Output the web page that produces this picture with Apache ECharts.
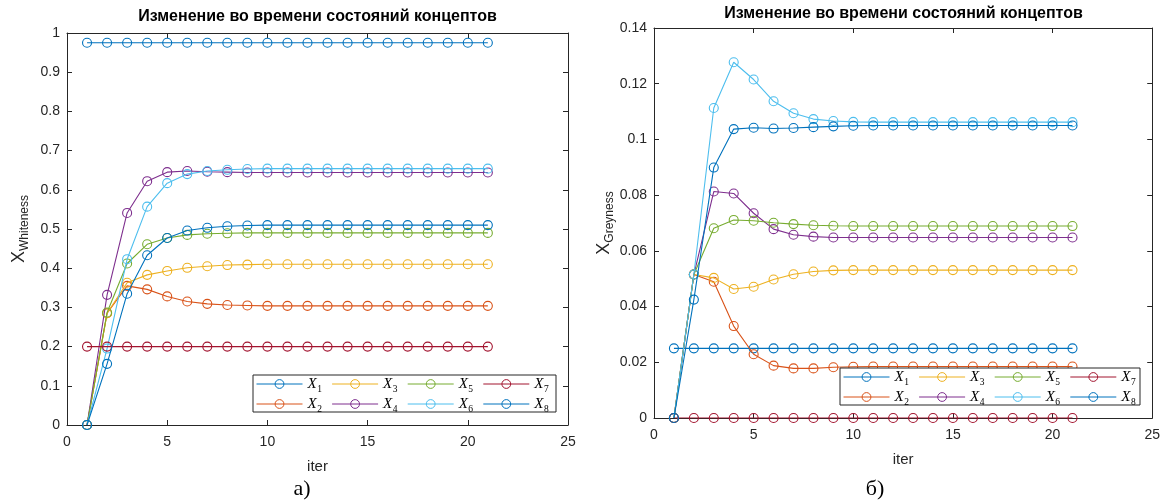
<!DOCTYPE html>
<html><head><meta charset="utf-8">
<script src="https://cdn.jsdelivr.net/npm/echarts@6/dist/echarts.min.js"></script>
<style>html,body{margin:0;padding:0;background:#fff}#c{width:1163px;height:504px}</style>
</head><body><div id="c"></div>
<script>
// ---- data ----
const iter = [1,2,3,4,5,6,7,8,9,10,11,12,13,14,15,16,17,18,19,20,21];
const names = ['X1','X2','X3','X4','X5','X6','X7','X8'];
const subs  = ['1','2','3','4','5','6','7','8'];
const colors = ['#0072BD','#D95319','#EDB120','#7E2F8E','#77AC30','#4DBEEE','#A2142F','#0072BD'];

// Whiteness (left)
const whiteX1 = [0.975,0.975,0.975,0.975,0.975,0.975,0.975,0.975,0.975,0.975,0.975,0.975,0.975,0.975,0.975,0.975,0.975,0.975,0.975,0.975,0.975];
const whiteX2 = [0,0.285,0.355,0.346,0.328,0.315,0.309,0.306,0.305,0.304,0.304,0.304,0.304,0.304,0.304,0.304,0.304,0.304,0.304,0.304,0.304];
const whiteX3 = [0,0.285,0.363,0.383,0.393,0.401,0.405,0.408,0.409,0.410,0.410,0.410,0.410,0.410,0.410,0.410,0.410,0.410,0.410,0.410,0.410];
const whiteX4 = [0,0.332,0.541,0.622,0.645,0.648,0.646,0.645,0.644,0.644,0.644,0.644,0.644,0.644,0.644,0.644,0.644,0.644,0.644,0.644,0.644];
const whiteX5 = [0,0.287,0.412,0.461,0.477,0.485,0.488,0.489,0.490,0.490,0.490,0.490,0.490,0.490,0.490,0.490,0.490,0.490,0.490,0.490,0.490];
const whiteX6 = [0,0.195,0.423,0.557,0.617,0.640,0.648,0.651,0.653,0.654,0.654,0.654,0.654,0.654,0.654,0.654,0.654,0.654,0.654,0.654,0.654];
const whiteX7 = [0.2,0.2,0.2,0.2,0.2,0.2,0.2,0.2,0.2,0.2,0.2,0.2,0.2,0.2,0.2,0.2,0.2,0.2,0.2,0.2,0.2];
const whiteX8 = [0,0.156,0.335,0.433,0.477,0.496,0.503,0.507,0.509,0.510,0.510,0.510,0.510,0.510,0.510,0.510,0.510,0.510,0.510,0.510,0.510];

// Greyness (right)
const greyX1 = [0.025,0.025,0.025,0.025,0.025,0.025,0.025,0.025,0.025,0.025,0.025,0.025,0.025,0.025,0.025,0.025,0.025,0.025,0.025,0.025,0.025];
const greyX2 = [0,0.0515,0.0489,0.0330,0.0229,0.0188,0.0178,0.0178,0.0182,0.0184,0.0185,0.0185,0.0185,0.0185,0.0185,0.0185,0.0185,0.0185,0.0185,0.0185,0.0185];
const greyX3 = [0,0.0515,0.0503,0.0463,0.0471,0.0497,0.0516,0.0526,0.0530,0.0531,0.0531,0.0531,0.0531,0.0531,0.0531,0.0531,0.0531,0.0531,0.0531,0.0531,0.0531];
const greyX4 = [0,0.0515,0.0813,0.0806,0.0735,0.0678,0.0658,0.0651,0.0648,0.0648,0.0648,0.0648,0.0648,0.0648,0.0648,0.0648,0.0648,0.0648,0.0648,0.0648,0.0648];
const greyX5 = [0,0.0515,0.0681,0.0711,0.0708,0.0701,0.0696,0.0692,0.0690,0.0689,0.0689,0.0689,0.0689,0.0689,0.0689,0.0689,0.0689,0.0689,0.0689,0.0689,0.0689];
const greyX6 = [0,0.0515,0.1113,0.1277,0.1215,0.1137,0.1094,0.1073,0.1066,0.1063,0.1062,0.1062,0.1062,0.1062,0.1062,0.1062,0.1062,0.1062,0.1062,0.1062,0.1062];
const greyX7 = [0,0,0,0,0,0,0,0,0,0,0,0,0,0,0,0,0,0,0,0,0];
const greyX8 = [0,0.0425,0.0899,0.1037,0.1042,0.1039,0.1041,0.1044,0.1047,0.1049,0.1050,0.1050,0.1050,0.1050,0.1050,0.1050,0.1050,0.1050,0.1050,0.1050,0.1050];

const whiteData = [whiteX1,whiteX2,whiteX3,whiteX4,whiteX5,whiteX6,whiteX7,whiteX8];
const greyData  = [greyX1,greyX2,greyX3,greyX4,greyX5,greyX6,greyX7,greyX8];

const xTicks = {min:0, max:25, interval:5};
const yWhite = {min:0, max:1, interval:0.1};
const yGrey  = {min:0, max:0.14, interval:0.02};

const titleText = 'Изменение во времени состояний концептов';

// ---- layout ----
const AX = '#262626';
const FONT = 'Liberation Sans';
const grids = [
  {left:67, top:33, width:501, height:392},
  {left:654, top:28, width:499, height:390}
];

const xAxes = [], yAxes = [];
function addAxes(g, yr, yName){
  const tick = {show:true, inside:true, length:5, lineStyle:{color:AX, width:1}};
  const line = {show:true, onZero:false, lineStyle:{color:AX, width:1}};
  xAxes.push({gridIndex:g, type:'value', position:'bottom', min:xTicks.min, max:xTicks.max, interval:xTicks.interval,
    axisLine:line, axisTick:tick, splitLine:{show:false},
    axisLabel:{color:AX, fontSize:14, fontFamily:FONT, margin:10},
    name:'iter', nameLocation:'middle', nameGap:34, nameTextStyle:{color:AX, fontSize:15, fontFamily:FONT}});
  xAxes.push({gridIndex:g, type:'value', position:'top', min:xTicks.min, max:xTicks.max, interval:xTicks.interval,
    axisLine:line, axisTick:tick, splitLine:{show:false}, axisLabel:{show:false}});
  yAxes.push({gridIndex:g, type:'value', position:'left', min:yr.min, max:yr.max, interval:yr.interval,
    axisLine:line, axisTick:tick, splitLine:{show:false},
    axisLabel:{color:AX, fontSize:14, fontFamily:FONT, margin:7, formatter:v=>String(parseFloat(v.toFixed(3)))},
    name:'{x|X}{s|'+yName+'}', nameLocation:'middle', nameGap:39, nameRotate:90,
    nameTextStyle:{color:AX, rich:{
      x:{fontSize:18, fontFamily:FONT, color:AX, lineHeight:18, verticalAlign:'top'},
      s:{fontSize:12, fontFamily:FONT, color:AX, lineHeight:12, padding:[9,0,0,0], verticalAlign:'top'}
    }}});
  yAxes.push({gridIndex:g, type:'value', position:'right', min:yr.min, max:yr.max, interval:yr.interval,
    axisLine:line, axisTick:tick, splitLine:{show:false}, axisLabel:{show:false}});
}
addAxes(0, yWhite, 'Whiteness');
addAxes(1, yGrey, 'Greyness');

const series = [];
function addSeries(g, dataSets){
  dataSets.forEach((arr, i)=>{
    series.push({
      name:names[i], type:'line', xAxisIndex:g*2, yAxisIndex:g*2,
      data: iter.map((x,k)=>[x, arr[k]]),
      symbol:'circle', symbolSize:9, showSymbol:true,
      lineStyle:{color:colors[i], width:1.1},
      itemStyle:{color:'rgba(255,255,255,0)', borderColor:colors[i], borderWidth:1.1},
      emphasis:{disabled:true}, animation:false, z:2+i*0.01
    });
  });
}
addSeries(0, whiteData);
addSeries(1, greyData);

const legendRich = {
  x:{fontSize:15, fontStyle:'italic', fontFamily:'Liberation Serif', color:'#000', lineHeight:15, verticalAlign:'top'},
  s:{fontSize:9.5, fontFamily:'Liberation Serif', color:'#000', lineHeight:9, padding:[8,0,0,0.5], verticalAlign:'top'}
};
const legendFormatter = n => '{x|X}{s|'+subs[names.indexOf(n)]+'}';
const legends = [];
const legendBoxes = [
  {x:253, y:375, w:303, h:37, col0:256},
  {x:840, y:368, w:300, h:37, col0:843}
];
const colPairs = [['X1','X2'],['X3','X4'],['X5','X6'],['X7','X8']];
legendBoxes.forEach(b=>{
  colPairs.forEach((pair, c)=>{
    legends.push({data:pair, orient:'vertical', left:b.col0 + c*75.6, top:b.y+1.5,
      itemWidth:46, itemHeight:11, itemGap:2, padding:0, selectedMode:false,
      lineStyle:{width:1}, itemStyle:{borderWidth:1},
      formatter:legendFormatter, textStyle:{rich:legendRich}, z:30});
  });
});

const graphics = [];
legendBoxes.forEach(b=>{
  graphics.push({type:'rect', shape:{x:b.x, y:b.y, width:b.w, height:b.h},
    style:{fill:'#fff', stroke:AX, lineWidth:1}, z:20});
});
graphics.push({type:'text', x:317.5, y:17, z:30, style:{text:titleText, fill:'#000', font:'bold 16px "Liberation Sans"', textAlign:'center', textVerticalAlign:'middle'}});
graphics.push({type:'text', x:903.5, y:14, z:30, style:{text:titleText, fill:'#000', font:'bold 16px "Liberation Sans"', textAlign:'center', textVerticalAlign:'middle'}});
graphics.push({type:'text', x:302, y:489, z:30, style:{text:'а)', fill:'#000', font:'22px "Liberation Serif"', textAlign:'center', textVerticalAlign:'middle'}});
graphics.push({type:'text', x:875, y:489, z:30, style:{text:'б)', fill:'#000', font:'22px "Liberation Serif"', textAlign:'center', textVerticalAlign:'middle'}});

const chart = echarts.init(document.getElementById('c'), null, {renderer:'canvas'});
chart.setOption({
  backgroundColor:'#fff',
  animation:false,
  grid:grids,
  xAxis:xAxes,
  yAxis:yAxes,
  legend:legends,
  series:series,
  graphic:graphics
});
</script></body></html>
